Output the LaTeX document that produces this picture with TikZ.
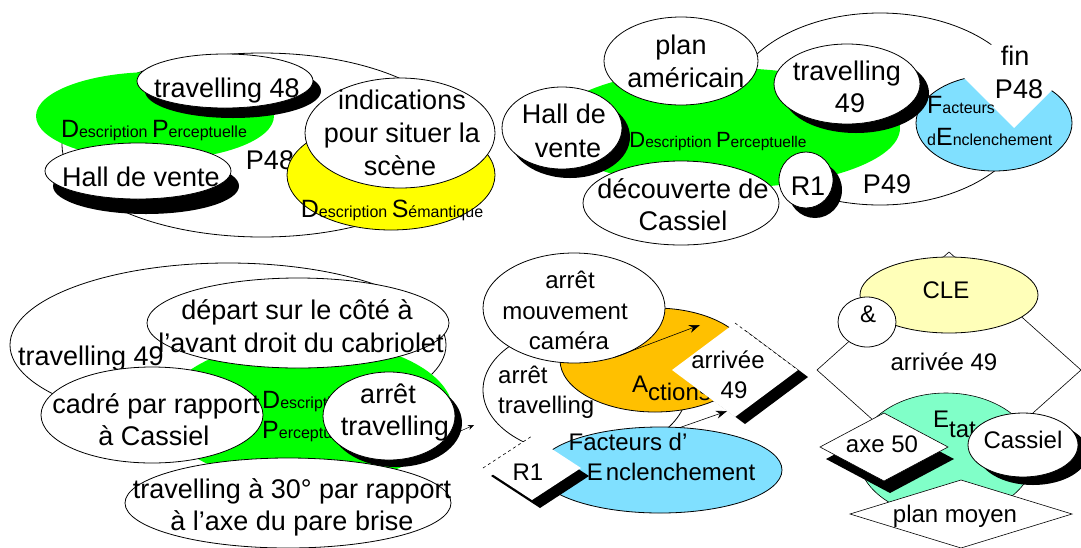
\documentclass[tikz,border=0pt]{standalone}
\usepackage{fontspec}
\setmainfont{Liberation Sans}
\usetikzlibrary{shapes.geometric,shadows,arrows.meta}
\definecolor{cgreen}{RGB}{0,255,0}
\definecolor{cyellow}{RGB}{255,255,0}
\definecolor{cblue}{RGB}{128,224,255}
\definecolor{corange}{RGB}{255,192,0}
\definecolor{ccle}{RGB}{255,255,185}
\definecolor{cetat}{RGB}{128,255,200}
\newcommand\fa{\fontsize{27}{32}\selectfont}
\newcommand\fb{\fontsize{24}{29}\selectfont}
\newcommand\fbig{\fontsize{25}{25}\selectfont}
\newcommand\fbigb{\fontsize{22}{22}\selectfont}
\newcommand\fsm{\fontsize{16}{16}\selectfont}
\newcommand\fsmb{\fontsize{15.5}{16}\selectfont}
\begin{document}
\begin{tikzpicture}[x=1pt,y=-1pt,
 el/.style={ellipse, inner sep=0pt, outer sep=0pt},
 wel/.style={el, draw=black, line width=0.8pt, fill=white},
 sz/.style 2 args={minimum width=#1pt, minimum height=#2pt},
 shd/.style 2 args={drop shadow={shadow xshift=#1pt, shadow yshift=-#2pt, fill=black, opacity=1, draw=none}},
 dia/.style={diamond, inner sep=0pt, outer sep=0pt, fill=white},
 ta/.style={inner sep=0pt, anchor=base, font=\fa},
 tb/.style={inner sep=0pt, anchor=base, font=\fb},
 arr/.style={-{Stealth[length=11pt,width=8pt]}, line width=0.6pt},
]
\useasboundingbox (0,0) rectangle (1081,547);
\fill[white] (0,0) rectangle (1081,547);

% ---------------- Panel 1 ----------------
\node[wel, sz={400}{184}] (p1big) at (262,145) {};
\node[el, fill=cgreen, sz={238}{88}] (p1dp) at (155,116) {};
\node[inner sep=0pt, anchor=base] (p1dpt) at (154,137) {{\fbig D}{\fsm escription }{\fbig P}{\fsm erceptuelle}};
\node[ta] (p1p48) at (270,169) {P48};
\node[wel, fill=cyellow, sz={208}{110}] (p1ds) at (391,175) {};
\node[inner sep=0pt, anchor=base] (p1dst) at (392,217) {{\fbig D}{\fsm escription }{\fbig S}{\fsm émantique}};
\node[wel, shd={8}{10}, sz={176}{54}] (p1tr) at (225,81) {};
\node[ta] (p1trt) at (227,97) {travelling 48};
\node[wel, shd={8}{15}, sz={186}{56}] (p1hall) at (138,171) {};
\node[ta] (p1hallt) at (141,186) {Hall de vente};
\node[wel, sz={190}{110}] (p1ind) at (400,133) {};
\node[ta] (p1i1) at (402,109) {indications};
\node[ta] (p1i2) at (402,142) {pour situer la};
\node[ta] (p1i3) at (400,175) {scène};

% ---------------- Panel 2 ----------------
\node[wel, sz={300}{192}] (p2big) at (880,109) {};
\node[wel, fill=cblue, sz={156}{96}] (p2fe) at (994,123) {};
\node[dia, sz={106}{106}] (p2fin) at (1014,75) {};
\node[inner sep=0pt, anchor=base west] (p2fe1) at (927,113) {{\fbig F}{\fsm acteurs}};
\node[inner sep=0pt, anchor=base west] (p2fe2) at (927,145) {{\fsm d}{\fbig E}{\fsm nclenchement}};
\node[ta] (p2fin1) at (1015,65) {fin};
\node[ta] (p2fin2) at (1019,98) {P48};
\node[el, fill=cgreen, sz={350}{120}] (p2dp) at (725,128) {};
\node[inner sep=0pt, anchor=base] (p2dpt) at (718,147) {{\fbigb D}{\fsmb escription }{\fbigb P}{\fsmb erceptuelle}};
\node[wel, sz={154}{88}] (p2pa) at (681,61) {};
\node[ta] (p2pa1) at (681,54) {plan};
\node[ta] (p2pa2) at (686,87) {américain};
\node[wel, shd={8}{9}, sz={120}{82}] (p2hall) at (562,128) {};
\node[ta] (p2h1) at (564,123) {Hall de};
\node[ta] (p2h2) at (568,157) {vente};
\node[wel, shd={9}{9}, sz={146}{80}] (p2tr) at (847,84) {};
\node[ta] (p2tr1) at (847,80) {travelling};
\node[ta] (p2tr2) at (850,112) {49};
\node[wel, sz={196}{84}] (p2dc) at (681,203) {};
\node[ta] (p2dc1) at (683,198) {découverte de};
\node[ta] (p2dc2) at (683,230) {Cassiel};
\node[wel, shd={9}{10}, sz={54}{56}] (p2r1) at (806,180) {};
\node[ta] (p2r1t) at (808,195) {R1};
\node[ta] (p2p49) at (887,193) {P49};

% ---------------- Panel 3 ----------------
\node[wel, sz={436}{164}] (p3big) at (228,345) {};
\node[ta] (p3bigt) at (91,365) {travelling 49};
\node[el, fill=cgreen, sz={290}{144}] (p3dp) at (308,412) {};
\node[wel, sz={302}{90}] (p3dep) at (298,323) {};
\node[ta] (p3d1) at (297,319) {départ sur le côté à};
\node[ta] (p3d2) at (301,352) {l'avant droit du cabriolet};
\node[wel, sz={222}{96}] (p3cad) at (152,415) {};
\node[ta] (p3c1) at (156,413) {cadré par rapport};
\node[ta] (p3c2) at (154,445) {à Cassiel};
\node[inner sep=0pt, anchor=base west] (p3dp1) at (262,408) {{\fbig D}{\fsm escription}};
\node[inner sep=0pt, anchor=base west] (p3dp2) at (262,438) {{\fbig P}{\fsm erceptuelle}};
\node[wel, sz={326}{90}] (p3tr30) at (288,503) {};
\node[ta] (p3t1) at (292,498) {travelling à 30° par rapport};
\node[ta] (p3t2) at (292,530) {à l'axe du pare brise};
\node[wel, shd={7}{7}, sz={132}{88}] (p3at) at (389,416) {};
\node[ta] (p3a1) at (388,403) {arrêt};
\node[ta] (p3a2) at (395,435) {travelling};
\coordinate (p3tip) at (474,425);
\draw[-{Stealth[length=6pt,width=5pt]}, line width=0.5pt, shorten <=9pt] (p3at.-20) -- (p3tip);

% ---------------- Panel 4 ----------------
\node[wel, sz={204}{130}] (p4at) at (585,390) {};
\node[tb, anchor=base west] (p4at1) at (498,383) {arrêt};
\node[tb, anchor=base west] (p4at2) at (498,413) {travelling};
\node[wel, fill=corange, sz={190}{104}] (p4act) at (655,360) {};
\node[inner sep=0pt, anchor=base west, font=\fb] (p4actt) at (632,392) {A\raisebox{-8pt}{ctions}};
\node[wel, sz={182}{110}] (p4am) at (574,308) {};
\node[tb] (p4am1) at (570,288) {arrêt};
\node[tb] (p4am2) at (565,319) {mouvement};
\node[tb] (p4am3) at (569,349) {caméra};
\coordinate (p4tip) at (700,325);
\draw[arr] (p4am.-50) -- (p4tip);
\node[wel, fill=cblue, sz={244}{86}] (p4fe) at (660,470) {};
\node[tb] (p4fe1) at (628,450) {Facteurs d'};
\node[tb] (p4fe2) at (671,480) {E\hspace{3pt}nclenchement};
\node[dia, shd={8}{8}, sz={98}{64}] (p4r1) at (532,468) {};
\draw[dashed, line width=0.6pt] (p4r1.west) -- (p4r1.north);
\node[tb] (p4r1t) at (528,480) {R1};
\node[dia, shd={10}{7}, sz={126}{94}] (p4arr) at (735,370) {};
\draw[dashed, line width=0.6pt] (p4arr.north) -- (p4arr.east);
\node[tb] (p4arr1) at (728,368) {arrivée};
\node[tb] (p4arr2) at (734,398) {49};
\draw[arr] (p4fe.65) -- (p4arr.-101);

% ---------------- Panel 5 ----------------
\node[dia, draw=black, line width=0.6pt, sz={264}{236}] (p5arr) at (949,370) {};
\node[wel, fill=ccle, sz={178}{76}] (p5cle) at (949,295) {};
\node[tb] (p5clet) at (946,298) {CLE};
\node[wel, sz={58}{50}] (p5and) at (867,322) {};
\node[tb] (p5andt) at (868,322) {\&};
\node[tb] (p5arrt) at (944,370) {arrivée 49};
\node[wel, fill=cetat, line width=0.6pt, sz={176}{124}] (p5etat) at (946,455) {};
\node[inner sep=0pt, anchor=base west, font=\fb] (p5etatt) at (933,427) {E\raisebox{-10pt}{tat}};
\node[wel, shd={10}{8}, sz={110}{64}] (p5cas) at (1023,445) {};
\node[tb] (p5cast) at (1023,448) {Cassiel};
\node[dia, draw=black, line width=0.6pt, shd={6}{12}, sz={128}{68}] (p5axe) at (884,447) {};
\node[tb] (p5axet) at (882,452) {axe 50};
\node[dia, draw=black, line width=0.6pt, sz={222}{68}] (p5pm) at (961,514) {};
\node[tb] (p5pmt) at (955,522) {plan moyen};
\end{tikzpicture}
\end{document}
